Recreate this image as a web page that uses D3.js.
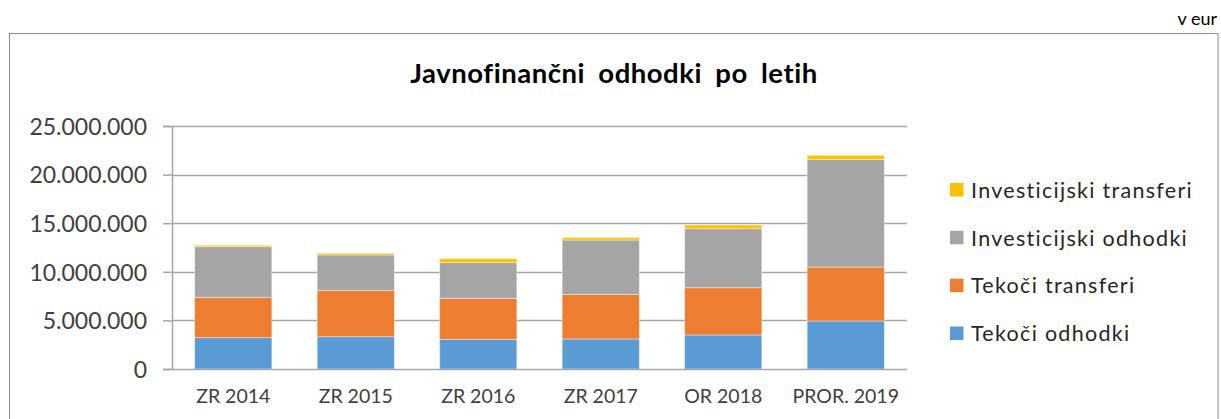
<!DOCTYPE html>
<html>
<head>
<meta charset="utf-8">
<script src="https://cdn.jsdelivr.net/npm/d3@7"></script>
<style>
html,body{margin:0;padding:0;background:#fff;}
svg{display:block;font-family:Lato,"Open Sans",sans-serif;}
</style>
</head>
<body>
<svg id="chart" width="1221" height="419"></svg>
<script>
const categories = ["ZR 2014","ZR 2015","ZR 2016","ZR 2017","OR 2018","PROR. 2019"];
const seriesNames = ["Tekoči odhodki","Tekoči transferi","Investicijski odhodki","Investicijski transferi"];
const tekociOdhodki = [3220000,3320000,3050000,3090000,3500000,4940000];
const tekociTransferi = [4160000,4740000,4220000,4580000,4860000,5550000];
const investicijskiOdhodki = [5200000,3670000,3670000,5600000,6070000,11070000];
const investicijskiTransferi = [150000,170000,410000,240000,380000,420000];
const yTicks = [0,5000000,10000000,15000000,20000000,25000000];
const seriesColors = ["#5B9BD5","#ED7D31","#A5A5A5","#FFC000"];
const titleText = "Javnofinančni odhodki po letih";
const unitText = "v eur";

const seriesValues = [tekociOdhodki, tekociTransferi, investicijskiOdhodki, investicijskiTransferi];
const rows = categories.map((c,i)=>{
  const r = {cat:c};
  seriesNames.forEach((s,j)=>r[s]=seriesValues[j][i]);
  return r;
});

const svg = d3.select("#chart");
const plot = {left:172, right:907, top:126, bottom:369};

// outer frame
svg.append("rect").attr("x",9.5).attr("y",33.5).attr("width",1208.5).attr("height",420)
  .attr("fill","none").attr("stroke","#8c8c8c").attr("stroke-width",1);

svg.append("text").attr("x",1217).attr("y",25).attr("text-anchor","end")
  .attr("font-size",18).attr("fill","#000").text(unitText);

const title = svg.append("text").attr("x",614).attr("y",83).attr("text-anchor","middle")
  .attr("font-size",27.5).attr("font-weight","bold").attr("fill","#000").text(titleText);
// fit title width: split extra between letter and word spacing
{
  const w = title.node().getComputedTextLength();
  const target = 407;
  const spaces = titleText.split(" ").length - 1;
  const d = target - w;
  if (d > 0) {
    title.attr("letter-spacing", (d*0.45/(titleText.length-1)).toFixed(2));
    title.attr("word-spacing", (d*0.55/spaces).toFixed(2));
  } else title.attr("font-size", (27.5*target/w).toFixed(2));
}

const x = d3.scaleBand().domain(categories).range([plot.left, plot.right]).paddingInner(0.37).paddingOuter(0.185);
const y = d3.scaleLinear().domain([0,25000000]).range([plot.bottom, plot.top]);

const fmt = v => d3.format(",")(v).replace(/,/g,".");

// gridlines
svg.append("g").selectAll("line").data(yTicks.filter(t=>t>0)).join("line")
  .attr("x1",plot.left).attr("x2",plot.right)
  .attr("y1",d=>Math.round(y(d))+0.5).attr("y2",d=>Math.round(y(d))+0.5)
  .attr("stroke","#a6a6a6").attr("stroke-width",1.5);

// y axis
const yAxis = svg.append("g").attr("transform",`translate(${plot.left},0)`)
  .call(d3.axisLeft(y).tickValues(yTicks).tickFormat(fmt).tickSize(9).tickPadding(16));
yAxis.select(".domain").attr("stroke","#a6a6a6").attr("stroke-width",1.5);
yAxis.selectAll(".tick line").attr("stroke","#a6a6a6").attr("stroke-width",1.5);
yAxis.selectAll(".tick text").attr("font-size",23).attr("fill","#404040")
  .attr("font-family","Lato,'Open Sans',sans-serif").attr("dy","0.36em");

// bars
const stack = d3.stack().keys(seriesNames)(rows);
svg.append("g").selectAll("g").data(stack).join("g")
  .attr("fill",(d,i)=>seriesColors[i])
  .selectAll("rect").data(d=>d).join("rect")
  .attr("x",d=>x(d.data.cat)).attr("width",x.bandwidth())
  .attr("y",d=>y(d[1])).attr("height",d=>y(d[0])-y(d[1]))
  .attr("stroke","#fff").attr("stroke-opacity",0.5).attr("stroke-width",0.8);

// baseline axis
svg.append("line").attr("x1",plot.left).attr("x2",plot.right)
  .attr("y1",plot.bottom+0.5).attr("y2",plot.bottom+0.5)
  .attr("stroke","#a6a6a6").attr("stroke-width",1.5);

// x axis labels
const xAxis = svg.append("g").attr("transform",`translate(0,${plot.bottom})`)
  .call(d3.axisBottom(x).tickSize(0).tickPadding(20));
xAxis.select(".domain").remove();
xAxis.selectAll(".tick text").attr("font-size",19.5).attr("fill","#404040")
  .attr("font-family","Lato,'Open Sans',sans-serif");

// legend (reverse order)
const legendOrder = seriesNames.map((s,i)=>({name:s,color:seriesColors[i]})).reverse();
const ly = d3.scalePoint().domain(legendOrder.map(d=>d.name)).range([190, 333.5]);
const lg = svg.append("g").selectAll("g").data(legendOrder).join("g")
  .attr("transform",d=>`translate(950,${ly(d.name)})`);
lg.append("rect").attr("x",0).attr("y",-7).attr("width",13.5).attr("height",13.5).attr("fill",d=>d.color);
const ltexts = lg.append("text").attr("x",21).attr("y",0).attr("dy","0.36em")
  .attr("font-size",21.5).attr("fill","#262626").text(d=>d.name);
{
  const first = ltexts.filter((d,i)=>i===0);
  const w = first.node().getComputedTextLength();
  const n = first.text().length - 1;
  if (w < 221) ltexts.attr("letter-spacing", ((221 - w)/n).toFixed(2));
}
</script>
</body>
</html>
